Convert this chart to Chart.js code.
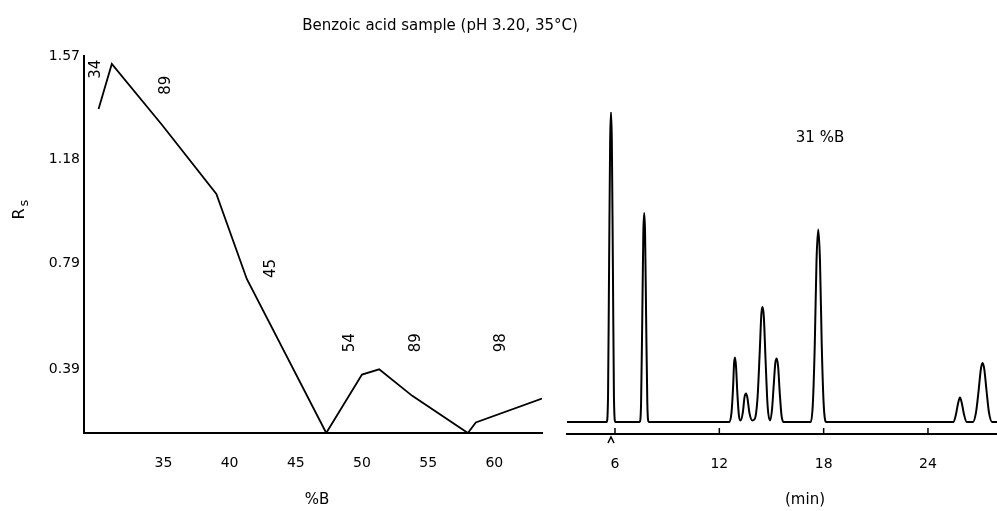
<!DOCTYPE html>
<html>
<head>
<meta charset="utf-8">
<script src="https://cdn.jsdelivr.net/npm/chart.js@4.4.1/dist/chart.umd.min.js"></script>
<style>
  body { margin: 0; background: #fff; }
  #wrap { position: relative; width: 997px; height: 511px; overflow: hidden; }
  canvas { position: absolute; top: 0; }
  #resChart { left: 0; }
  #chromChart { left: 560px; }
  #title {
    position: absolute; left: 240px; width: 400px; top: 15px;
    text-align: center; font: 15px 'DejaVu Sans'; color: #000; line-height: 20px;
  }
</style>
</head>
<body>
<div id="wrap">
  <canvas id="resChart" width="560" height="511"></canvas>
  <canvas id="chromChart" width="437" height="511"></canvas>
  <div id="title">Benzoic acid sample (pH 3.20, 35°C)</div>
</div>
<script>
// resolution map, Rs vs %B
const percentB = [30.1, 31.1, 34.9, 39.0, 41.3, 47.3, 50.0, 51.3, 53.8, 58.0, 58.6, 63.6];
const resolution = [1.37, 1.54, 1.31, 1.05, 0.73, 0.15, 0.37, 0.39, 0.29, 0.15, 0.19, 0.28];
const bTicks = [35, 40, 45, 50, 55, 60];
const rsTicks = [0.39, 0.79, 1.18, 1.57];

// critical peak pair printed over each segment
const pairLabels = ['34', '89', '45', '54', '89', '98'];
const pairLabelB = [29.9, 35.2, 43.1, 49.1, 54.1, 60.5];
const pairLabelRs = [1.52, 1.46, 0.77, 0.49, 0.49, 0.49];

// chromatogram at 31 %B
const retentionTime = [
  3.24,
  5.52, 5.60, 5.66, 5.72, 5.77, 5.82, 5.88, 5.94, 6.02,
  7.42, 7.50, 7.57, 7.63, 7.68, 7.73, 7.79, 7.86, 7.94,
  12.58, 12.70, 12.79, 12.85, 12.90, 12.96, 13.04, 13.13, 13.23,
  13.35, 13.45, 13.53, 13.61, 13.73, 13.90,
  14.04, 14.20, 14.32, 14.42, 14.49, 14.56, 14.66, 14.78, 14.91,
  15.03, 15.13, 15.22, 15.30, 15.38, 15.48, 15.58, 15.70,
  17.26, 17.38, 17.49, 17.59, 17.69, 17.79, 17.89, 18.00, 18.14,
  25.47, 25.61, 25.73, 25.84, 25.95, 26.07, 26.23,
  26.59, 26.76, 26.91, 27.04, 27.14, 27.24, 27.37, 27.51, 27.69, 27.97
];
const detectorSignal = [
  0,
  0, 8, 50, 90, 100, 90, 50, 8, 0,
  0, 6, 34, 61, 67.4, 61, 34, 6, 0,
  0, 3, 11, 19, 20.8, 18, 9, 2, 0.5,
  3, 8, 9.2, 8, 3, 0.5,
  1, 8, 22, 35, 37.1, 34, 20, 5, 0.5,
  4, 12, 19, 20.5, 18, 9, 2, 0,
  0, 6, 25, 52, 62.1, 52, 25, 6, 0,
  0, 2.5, 6, 7.9, 6, 2.5, 0,
  0, 3, 10, 17, 19, 17, 10, 3, 0, 0
];
const timeTicks = [6, 12, 18, 24];

const FONT = 'DejaVu Sans';

// draws free text; x/y may be data values (scale) or canvas pixels
const textPlugin = {
  id: 'freeText',
  afterDraw(chart, args, opts) {
    const ctx = chart.ctx;
    ctx.save();
    ctx.fillStyle = '#000';
    ctx.textAlign = 'center';
    ctx.textBaseline = 'middle';
    (opts.items || []).forEach(it => {
      const px = it.px !== undefined ? it.px : chart.scales.x.getPixelForValue(it.x);
      const py = it.py !== undefined ? it.py : chart.scales.y.getPixelForValue(it.y);
      ctx.font = (it.size || 14) + 'px ' + FONT;
      ctx.save();
      ctx.translate(px, py);
      if (it.rot) ctx.rotate(it.rot);
      ctx.fillText(it.text, 0, 0);
      ctx.restore();
    });
    if (opts.upTicks) {
      const xs = chart.scales.x;
      const yb = chart.chartArea.bottom;
      ctx.strokeStyle = '#000';
      ctx.lineWidth = 1.5;
      ctx.beginPath();
      xs.ticks.forEach(t => {
        const x = xs.getPixelForValue(t.value);
        ctx.moveTo(x, yb);
        ctx.lineTo(x, yb - 6);
      });
      // injection mark under the first tick
      const xi = xs.getPixelForValue(timeTicks[0]) - 4;
      ctx.moveTo(xi - 3, yb + 9);
      ctx.lineTo(xi, yb + 3);
      ctx.lineTo(xi + 3, yb + 9);
      ctx.stroke();
    }
    ctx.restore();
  }
};

new Chart(document.getElementById('resChart'), {
  type: 'line',
  data: {
    datasets: [{
      data: percentB.map((b, i) => ({ x: b, y: resolution[i] })),
      borderColor: '#000',
      borderWidth: 1.8,
      pointRadius: 0,
      tension: 0
    }]
  },
  options: {
    responsive: false,
    animation: false,
    layout: { padding: { top: 56, right: 18, left: 0, bottom: 0 } },
    plugins: {
      legend: { display: false },
      tooltip: { enabled: false },
      freeText: {
        items: [
          { text: 'R', px: 20, py: 214, size: 16, rot: -Math.PI / 2 },
          { text: 's', px: 25, py: 203, size: 13, rot: -Math.PI / 2 },
          { text: '%B', px: 317, py: 500, size: 15 }
        ].concat(pairLabels.map((t, i) => ({
          text: t, x: pairLabelB[i], y: pairLabelRs[i], size: 15, rot: -Math.PI / 2
        })))
      }
    },
    scales: {
      x: {
        type: 'linear',
        min: 29,
        max: 63.6,
        afterFit: s => { s.height = 78; },
        afterBuildTicks: s => { s.ticks = bTicks.map(v => ({ value: v })); },
        grid: { display: false, drawTicks: false },
        border: { display: true, color: '#000', width: 2 },
        ticks: { color: '#000', font: { family: FONT, size: 14 }, padding: 22 }
      },
      y: {
        type: 'linear',
        min: 0.15,
        max: 1.57,
        afterFit: s => { s.width = 84; },
        afterBuildTicks: s => { s.ticks = rsTicks.map(v => ({ value: v })); },
        grid: { display: false, drawTicks: false },
        border: { display: true, color: '#000', width: 2 },
        ticks: {
          color: '#000',
          font: { family: FONT, size: 14 },
          padding: 4,
          callback: v => v.toFixed(2)
        }
      }
    }
  },
  plugins: [textPlugin]
});

new Chart(document.getElementById('chromChart'), {
  type: 'line',
  data: {
    datasets: [{
      data: retentionTime.map((t, i) => ({ x: t, y: detectorSignal[i] })),
      borderColor: '#000',
      borderWidth: 2,
      pointRadius: 0,
      cubicInterpolationMode: 'monotone'
    }]
  },
  options: {
    responsive: false,
    animation: false,
    layout: { padding: { top: 112, right: 0, left: 7, bottom: 0 } },
    plugins: {
      legend: { display: false },
      tooltip: { enabled: false },
      freeText: {
        upTicks: true,
        items: [
          { text: '31 %B', px: 260, py: 138, size: 15 },
          { text: '(min)', px: 245, py: 500, size: 15 }
        ]
      }
    },
    scales: {
      x: {
        type: 'linear',
        min: 3.24,
        max: 27.97,
        afterFit: s => { s.height = 77; },
        afterBuildTicks: s => { s.ticks = timeTicks.map(v => ({ value: v })); },
        grid: { display: false, drawTicks: false },
        border: { display: true, color: '#000', width: 2 },
        ticks: { color: '#000', font: { family: FONT, size: 14 }, padding: 22 }
      },
      y: {
        display: false,
        min: -3.87,
        max: 100
      }
    }
  },
  plugins: [textPlugin]
});
</script>
</body>
</html>
